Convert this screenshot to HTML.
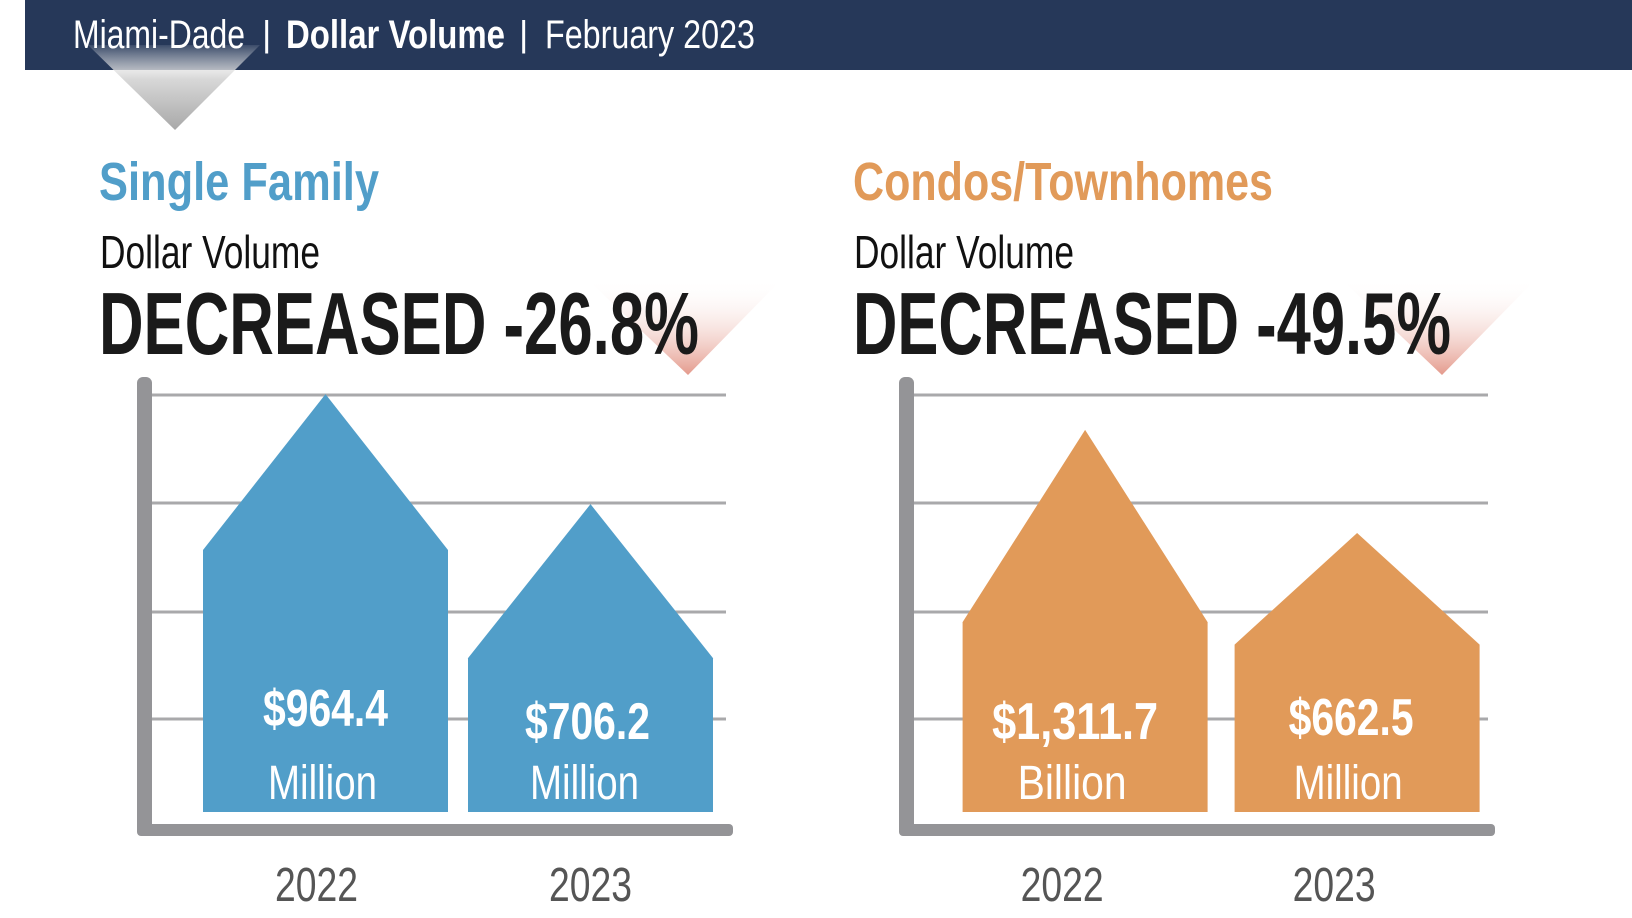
<!DOCTYPE html>
<html><head><meta charset="utf-8"><style>
html,body{margin:0;padding:0;background:#fff;}
svg{display:block;}
text{font-family:"Liberation Sans Narrow","Liberation Sans",sans-serif;}
</style></head><body>
<svg id="c" width="1632" height="918" viewBox="0 0 1632 918" xmlns="http://www.w3.org/2000/svg">
<defs>
<linearGradient id="gg" x1="0" y1="0" x2="0" y2="1"><stop offset="0" stop-color="#ffffff" stop-opacity="0.1"/><stop offset="0.4" stop-color="#d8d8d8"/><stop offset="1" stop-color="#a8a8a8"/></linearGradient>
<linearGradient id="pg" x1="0" y1="0" x2="0" y2="1"><stop offset="0" stop-color="#ffffff" stop-opacity="0"/><stop offset="1" stop-color="#e49a8c"/></linearGradient>
</defs>
<rect x="25" y="0" width="1607" height="70" fill="#263859"/>
<polygon points="88,45 260,45 175,130" fill="url(#gg)"/>
<text x="73" y="48" font-size="40" fill="#fff" textLength="172" lengthAdjust="spacingAndGlyphs">Miami-Dade</text>
<text x="262" y="46" font-size="36" fill="#fff">|</text>
<text x="286" y="48" font-size="40" font-weight="bold" fill="#fff" textLength="219" lengthAdjust="spacingAndGlyphs">Dollar Volume</text>
<text x="519" y="46" font-size="36" fill="#fff">|</text>
<text x="545" y="48" font-size="40" fill="#fff" textLength="210" lengthAdjust="spacingAndGlyphs">February 2023</text>
<g id="panels"></g>
</svg>
<script>
const categories = ["2022", "2023"];
const sfValues = [964.4, 706.2];
const sfLabels = ["$964.4", "$706.2"];
const sfUnits = ["Million", "Million"];
const condoValues = [1311.7, 662.5];
const condoLabels = ["$1,311.7", "$662.5"];
const condoUnits = ["Billion", "Million"];
const sfChange = "DECREASED -26.8%";
const condoChange = "DECREASED -49.5%";

const NS = "http://www.w3.org/2000/svg";
const root = document.getElementById("panels");
function mk(tag, attrs, parent){const e=document.createElementNS(NS,tag);for(const k in attrs)e.setAttribute(k,attrs[k]);(parent||root).appendChild(e);return e;}
function fitW(str, per){ return Math.round(str.length*per); }

function panel(o){
  const g = mk("g",{});
  
  
  let t = mk("polygon",{points:`${o.x0+488},279 ${o.x0+683},279 ${o.x0+589},375`,fill:"url(#pg)"},g);
  
  
  t = mk("text",{x:o.x0,y:200,"font-size":54,"font-weight":"bold",fill:o.color,textLength:o.titleW,lengthAdjust:"spacingAndGlyphs"},g); t.textContent=o.title;
  
  
  t = mk("text",{x:o.x0+1,y:268,"font-size":46,fill:"#111",textLength:220,lengthAdjust:"spacingAndGlyphs"},g); t.textContent="Dollar Volume";
  
  
  t = mk("text",{x:o.x0,y:354,"font-size":88,"font-weight":"bold",fill:"#1a1a1a",textLength:o.changeW,lengthAdjust:"spacingAndGlyphs"},g); t.textContent=o.change;
  
  
  const ax = o.x0+38+o.axShift, base = 812;
  [395,503,612,719].forEach(y=>{
    const l = mk("line",{x1:ax+15,x2:ax+589,y1:y,y2:y,stroke:"#a9a9ab","stroke-width":3},g);
    
    
  });
  let a = mk("rect",{x:ax,y:377,width:15,height:459,rx:6,fill:"#949497"},g);
  
  
  a = mk("rect",{x:ax,y:824,width:596,height:12,rx:4,fill:"#949497"},g);
  
  
  const yH = v => o.a + o.b*v;
  o.values.forEach((v,i)=>{
    const bx = ax + 66 + i*o.gap - o.axShift*0.3, bw = 245;
    const h = yH(v), peak = base - h, bodyTop = base - h*o.bodyFrac[i];
    const p = mk("polygon",{points:`${bx},${base} ${bx},${bodyTop} ${bx+bw/2},${peak} ${bx+bw},${bodyTop} ${bx+bw},${base}`,fill:o.color},g);
    
    
    const cx = bx+bw/2;
    let s = mk("text",{x:cx+o.lblDx[i],y:o.valY[i],"font-size":52,"font-weight":"bold",fill:"#fff","text-anchor":"middle",textLength:fitW(o.labels[i],20.8),lengthAdjust:"spacingAndGlyphs"},g); s.textContent=o.labels[i];
    
    
    s = mk("text",{x:cx-3+o.lblDx[i],y:799,"font-size":48,fill:"#fff","text-anchor":"middle",textLength:fitW(o.units[i],15.5),lengthAdjust:"spacingAndGlyphs"},g); s.textContent=o.units[i];
    
    
    s = mk("text",{x:cx+o.yrDx[i],y:901,"font-size":48,fill:"#555","text-anchor":"middle",textLength:83,lengthAdjust:"spacingAndGlyphs"},g); s.textContent=categories[i];
    
    
  });
}
panel({name:"single-family-panel",x0:99,axShift:0,gap:265,color:"#519ec9",title:"Single Family",titleW:280,change:sfChange,changeW:600,
  values:sfValues,labels:sfLabels,units:sfUnits,a:7,b:0.426,bodyFrac:[0.627,0.5],valY:[726,739],lblDx:[0,-3],yrDx:[-9,0]});
panel({name:"condos-panel",x0:853,axShift:8,gap:272,color:"#e19a59",title:"Condos/Townhomes",titleW:420,change:condoChange,changeW:598,
  values:condoValues,labels:condoLabels,units:condoUnits,a:173.9,b:0.1587,bodyFrac:[0.497,0.6],valY:[739,735],lblDx:[-10,-6],yrDx:[-23,-23]});
</script>
</body></html>
